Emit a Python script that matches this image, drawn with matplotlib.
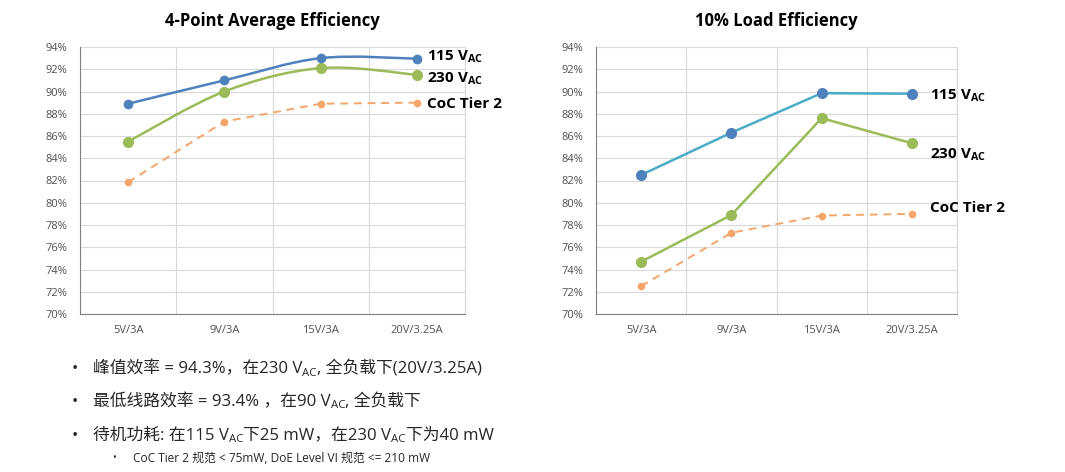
import matplotlib
matplotlib.use("Agg")
import matplotlib.pyplot as plt
import numpy as np
from matplotlib.path import Path
from matplotlib.patches import PathPatch

plt.rcParams['font.family'] = ['Open Sans', 'DejaVu Sans']

categories = ["5V/3A", "9V/3A", "15V/3A", "20V/3.25A"]
yticks = [70, 72, 74, 76, 78, 80, 82, 84, 86, 88, 90, 92, 94]

avg_115 = [88.9, 91.0, 93.0, 92.95]
avg_230 = [85.5, 90.0, 92.1, 91.5]
avg_coc = [81.85, 87.3, 88.9, 89.0]

load10_115 = [82.5, 86.3, 89.85, 89.8]
load10_230 = [74.7, 78.9, 87.6, 85.35]
load10_coc = [72.5, 77.3, 78.85, 79.0]

BLUE = "#4F81BD"
TEAL = "#4BACC6"
GREEN = "#9BBB59"
ORANGE = "#F4A66A"
GRID = "#D9D9D9"


def smooth_path(xs, ys):
    # excel-like smoothed line: catmull-rom -> cubic bezier
    p = np.column_stack([xs, ys]).astype(float)
    pts = np.vstack([p[0], p, p[-1]])
    verts = [p[0]]
    codes = [Path.MOVETO]
    for i in range(len(p) - 1):
        p0, p1, p2, p3 = pts[i], pts[i + 1], pts[i + 2], pts[i + 3]
        c1 = p1 + (p2 - p0) / 6
        c2 = p2 - (p3 - p1) / 6
        verts += [c1, c2, p2]
        codes += [Path.CURVE4] * 3
    return Path(verts, codes)


def setup_axes(ax, title):
    x = np.arange(len(categories))
    ax.set_xlim(-0.5, len(categories) - 0.5)
    ax.set_ylim(70, 94)
    ax.set_yticks(yticks)
    ax.set_yticklabels([f"{v}%" for v in yticks], fontsize=8, color="#505050")
    ax.set_xticks(x)
    ax.set_xticklabels(categories, fontsize=8, color="#505050")
    ax.tick_params(axis="y", length=0, pad=9)
    ax.tick_params(axis="x", length=0, pad=8)
    ax.set_xticks(np.arange(0.5, len(categories), 1), minor=True)
    ax.grid(True, axis="y", color=GRID, lw=0.8)
    ax.grid(True, axis="x", which="minor", color=GRID, lw=0.8)
    ax.tick_params(which="minor", length=0)
    ax.spines["top"].set_visible(False)
    ax.spines["right"].set_color(GRID)
    ax.spines["left"].set_color("#808080")
    ax.spines["bottom"].set_color("#808080")
    ax.set_axisbelow(True)
    ax.set_title(title, fontsize=12, fontweight="bold", pad=15)


fig = plt.figure(figsize=(10.65, 4.72), dpi=100)
ax1 = fig.add_axes([80 / 1065, 1 - 314 / 472, 385 / 1065, 267 / 472])
ax2 = fig.add_axes([596 / 1065, 1 - 314 / 472, 361 / 1065, 267 / 472])
x = np.arange(len(categories))

# left chart: smoothed lines
setup_axes(ax1, "4-Point Average Efficiency")
ax1.plot(x, avg_coc, color=ORANGE, lw=1.4, ls=(0, (4, 3)), marker="o", ms=4.5, clip_on=False)
ax1.add_patch(PathPatch(smooth_path(x, avg_230), fill=False, ec=GREEN, lw=1.8))
ax1.add_patch(PathPatch(smooth_path(x, avg_115), fill=False, ec=BLUE, lw=1.8))
ax1.plot(x, avg_230, "o", color=GREEN, ms=7, clip_on=False)
ax1.plot(x, avg_115, "o", color=BLUE, ms=6, clip_on=False)

# right chart: straight lines
setup_axes(ax2, "10% Load Efficiency")
ax2.plot(x, load10_coc, color=ORANGE, lw=1.4, ls=(0, (4, 3)), marker="o", ms=4.5, clip_on=False)
ax2.plot(x, load10_230, color=GREEN, lw=1.8, marker="o", ms=7, clip_on=False)
ax2.plot(x, load10_115, color=TEAL, lw=1.8)
ax2.plot(x, load10_115, "o", color=BLUE, ms=7, clip_on=False)

lab_kw = dict(fontsize=11, fontweight="bold", va="center", ha="left")
fig.text(427 / 1065, 1 - 57 / 472, r"115 V$_{\mathregular{AC}}$", **lab_kw)
fig.text(427 / 1065, 1 - 79 / 472, r"230 V$_{\mathregular{AC}}$", **lab_kw)
fig.text(427 / 1065, 1 - 104 / 472, "CoC Tier 2", **lab_kw)
fig.text(930 / 1065, 1 - 96 / 472, r"115 V$_{\mathregular{AC}}$", **lab_kw)
fig.text(930 / 1065, 1 - 155 / 472, r"230 V$_{\mathregular{AC}}$", **lab_kw)
fig.text(930 / 1065, 1 - 208 / 472, "CoC Tier 2", **lab_kw)

# bullet text below charts
CJK = ['Open Sans', 'Noto Sans CJK SC', 'DejaVu Sans']
fig.canvas.draw()
renderer = fig.canvas.get_renderer()


def chain(px, py, parts, size, color="#262626"):
    # parts: (text, is_subscript)
    for s, sub in parts:
        fs = size * 0.68 if sub else size
        yy = py + (4 if sub else 0)
        t = fig.text(px / 1065, 1 - yy / 472, s, fontsize=fs, family=CJK,
                     va="center", ha="left", color=color)
        bb = t.get_window_extent(renderer)
        px += bb.width


bullets = [
    (369, [("峰值效率 = 94.3%，在230 V", False), ("AC", True), (", 全负载下(20V/3.25A)", False)]),
    (402, [("最低线路效率 = 93.4% ，在90 V", False), ("AC", True), (", 全负载下", False)]),
    (436, [("待机功耗: 在115 V", False), ("AC", True), ("下25 mW，在230 V", False),
           ("AC", True), ("下为40 mW", False)]),
]
for yy, parts in bullets:
    fig.text(75 / 1065, 1 - yy / 472, "•", fontsize=12, va="center", ha="center", color="#262626")
    chain(93, yy, parts, 12.1)

fig.text(114 / 1065, 1 - 458 / 472, "•", fontsize=7, va="center", ha="center", color="#262626")
chain(133, 458, [("CoC Tier 2 规范 < 75mW, DoE Level VI 规范 <= 210 mW", False)], 8.6)

fig.savefig("out.png", dpi=100)
